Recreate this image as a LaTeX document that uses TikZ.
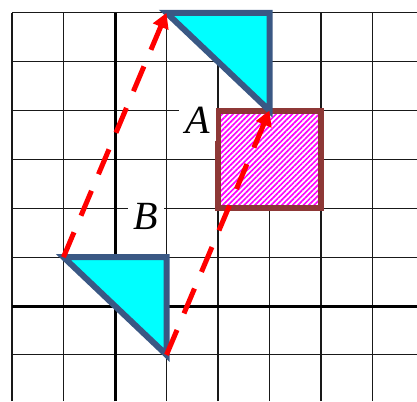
\documentclass[tikz,border=0pt]{standalone}
\usepackage{fontspec}
\setmainfont{Liberation Serif}
\usepackage{tikz}
\usetikzlibrary{arrows.meta,patterns.meta}
\definecolor{steel}{RGB}{58,88,132}
\definecolor{brick}{RGB}{142,56,54}
\definecolor{aqua}{RGB}{0,255,255}
\definecolor{pinkish}{RGB}{255,0,255}
\tikzset{
  gridline/.style={draw=black!90,line width=1.2pt},
  axisline/.style={draw=black,line width=3pt},
  tri/.style={draw=steel,line width=6pt,fill=aqua},
  sq/.style={draw=brick,line width=6pt,preaction={fill=white},
             pattern={Lines[angle=45,distance=3.8pt,line width=1.7pt]},pattern color=pinkish},
  lbl/.style={fill=white,inner xsep=6pt,inner ysep=8pt,font=\fontsize{40}{48}\selectfont\itshape},
  move/.style={-{Triangle[length=15pt,width=16pt]},draw=red,line width=5pt,
               dash pattern=on 27pt off 18pt}
}
\begin{document}
\begin{tikzpicture}[x=51.5pt,y=48.86pt]
  \useasboundingbox (-2.233,-1.944) rectangle (5.864,6.263);
  % grid and axes
  \foreach \i in {-2,...,5}
    \draw[gridline] (\i,-1.944) -- (\i,6);
  \foreach \j in {-1,...,6}
    \draw[gridline] (-2,\j) -- (5.864,\j);
  \draw[axisline] (-2,0) -- (5.864,0);
  \draw[axisline] (0,-1.944) -- (0,6);
  % square A
  \draw[sq] (2,2) rectangle (4,4);
  \node[lbl] (labA) at (1.6,3.81) {A};
  \node[lbl] (labB) at (0.6,1.83) {B};
  % the two triangles
  \coordinate (b1) at (-1,1);
  \coordinate (b2) at (1,1);
  \coordinate (b3) at (1,-1);
  \coordinate (t1) at (1,6);
  \coordinate (t2) at (3,6);
  \coordinate (t3) at (3,4);
  \draw[tri] (b1) -- (b2) -- (b3) -- cycle;
  \draw[tri] (t1) -- (t2) -- (t3) -- cycle;
  % translation
  \draw[move] (b1) -- (t1);
  \draw[move] (b3) -- (t3);
\end{tikzpicture}
\end{document}
